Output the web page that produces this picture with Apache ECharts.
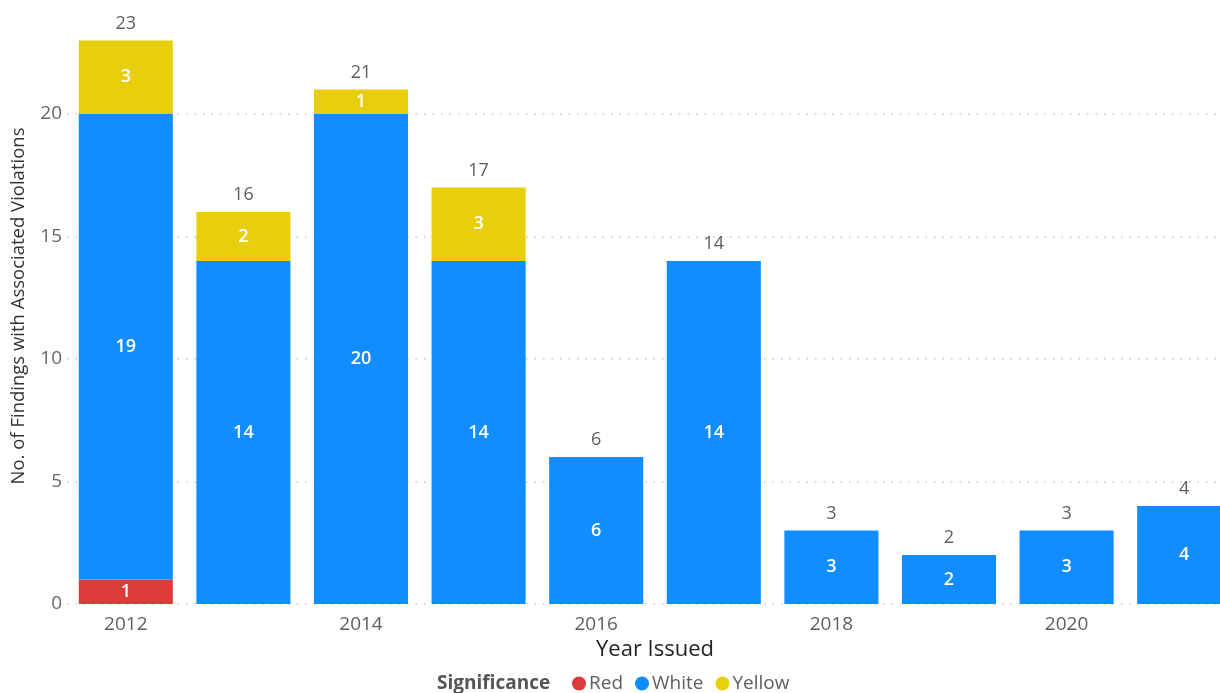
<!DOCTYPE html>
<html>
<head>
<meta charset="utf-8">
<script src="https://cdn.jsdelivr.net/npm/echarts@6/dist/echarts.min.js"></script>
<style>html,body{margin:0;padding:0;background:#fff;}#c{width:1220px;height:693px;}</style>
</head>
<body>
<div id="c"></div>
<script>
const years = ['2012','2013','2014','2015','2016','2017','2018','2019','2020','2021'];
const redVals = [1,0,0,0,0,0,0,0,0,0];
const whiteVals = [19,14,20,14,6,14,3,2,3,4];
const yellowVals = [3,2,1,3,0,0,0,0,0,0];
const yTicks = [0,5,10,15,20];

const totals = years.map((_, i) => redVals[i] + whiteVals[i] + yellowVals[i]);
const FONT = '"Open Sans", "Noto Sans", sans-serif';
const inLabel = {
  show: true, position: 'inside', color: '#fff', fontSize: 18, fontWeight: 600, fontFamily: FONT,
  formatter: p => (p.value ? String(p.value) : '')
};
const chart = echarts.init(document.getElementById('c'), null, {renderer: 'canvas'});
chart.setOption({
  animation: false,
  textStyle: {fontFamily: FONT},
  grid: {left: 67, right: -23, top: -8.5, bottom: 89, containLabel: false, outerBoundsMode: 'none'},
  legend: {
    data: ['Red', 'White', 'Yellow'],
    left: 567, top: 669, icon: 'circle', itemWidth: 14, itemHeight: 14, itemGap: 12,
    textStyle: {color: '#605E5C', fontSize: 19, fontFamily: FONT, padding: [0, 0, 0, -2]}
  },
  graphic: [
    {type: 'text', left: 437, top: 674, style: {text: 'Significance', fontSize: 19, fontWeight: 'bold', fill: '#555', fontFamily: FONT}},
    {type: 'text', x: 19, y: 306, rotation: Math.PI / 2,
      style: {text: 'No. of Findings with Associated Violations', fontSize: 18.5, fill: '#333', fontFamily: FONT, align: 'center', verticalAlign: 'middle'}}
  ],
  xAxis: {
    type: 'category', data: years,
    name: 'Year Issued', nameLocation: 'middle', nameGap: 33,
    nameTextStyle: {color: '#252423', fontSize: 22, fontFamily: FONT},
    axisLine: {show: false}, axisTick: {show: false},
    axisLabel: {interval: 1, color: '#605E5C', fontSize: 19, margin: 11, fontFamily: FONT}
  },
  yAxis: {
    type: 'value', min: 0, max: 25, interval: 5,
    axisLine: {show: false}, axisTick: {show: false},
    axisLabel: {color: '#666', fontSize: 19, margin: 5, fontFamily: FONT,
      formatter: v => (yTicks.includes(v) ? String(v) : '')},
    splitLine: {show: true, lineStyle: {color: '#c8c8c8', width: 1.5, type: [1.5, 7]}}
  },
  series: [
    {name: 'Red', type: 'bar', stack: 's', data: redVals, barWidth: '80%', itemStyle: {color: '#DD3A3A'}, label: inLabel},
    {name: 'White', type: 'bar', stack: 's', data: whiteVals, barWidth: '80%', itemStyle: {color: '#118DFF'}, label: inLabel},
    {name: 'Yellow', type: 'bar', stack: 's', data: yellowVals, barWidth: '80%', itemStyle: {color: '#E8CF0E'}, label: inLabel},
    {name: 'Total', type: 'bar', data: totals, barWidth: '80%', barGap: '-100%', silent: true,
      itemStyle: {color: 'rgba(0,0,0,0)'},
      label: {show: true, position: 'top', distance: 8, color: '#605E5C', fontSize: 18, fontFamily: FONT}}
  ]
});
</script>
</body>
</html>
